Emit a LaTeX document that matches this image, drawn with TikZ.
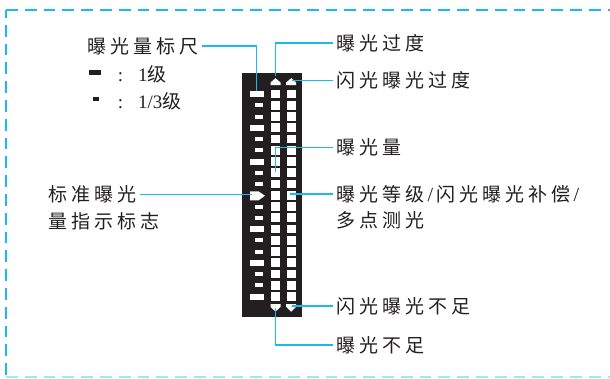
\documentclass[tikz,border=0pt]{standalone}
\usepackage{fontspec}
\setmainfont{Liberation Serif}
\newfontfamily\cjk[LetterSpace=21]{Noto Sans CJK SC}
\definecolor{cy}{RGB}{30,185,235}
\definecolor{pk}{RGB}{35,31,32}
\newcommand{\lsl}{{\rmfamily\fontsize{20}{22}\selectfont\,/\,}}
\begin{document}
\begin{tikzpicture}[x=1pt,y=-1pt,
  lab/.style={font=\cjk\fontsize{19}{22}\selectfont, inner sep=3pt, text=pk},
  latn/.style={font=\fontsize{19}{22}\selectfont, inner sep=3pt, text=pk},
  lead/.style={draw=cy, line width=1.7pt},
  border/.style={draw=cy, line width=2pt, dash pattern=on 11.8pt off 7pt}]
\useasboundingbox (0,0) rectangle (610,378);
% dashed frame
\draw[border] (6,10) -- (620,10);
\draw[border, dash phase=4pt] (6,10) -- (6,377);
\draw[border, draw=cy!40, line width=1.5pt] (6,377) -- (620,377);
% black panel
\fill[pk] (242,73) rectangle (302,317);
% scale marks
\foreach \i in {0,3,6,12,15,18}
  \fill[white] (250,{94+11.25*\i-3}) rectangle (263.5,{94+11.25*\i+3});
\foreach \i in {1,2,4,5,7,8,10,11,13,14,16,17}
  \fill[white] (255,{94+11.25*\i-2}) rectangle (262.5,{94+11.25*\i+2});
% standard exposure mark
\fill[white] (250,191.3) -- (258.5,191.3) -- (265,195.8) -- (258.5,200.3) -- (250,200.3) -- cycle;
% squares
\foreach \i in {0,...,18} {
  \fill[white] (271,{94+11.25*\i-4.3}) rectangle (280,{94+11.25*\i+4.3});
  \fill[white] (286.7,{94+11.25*\i-4.3}) rectangle (295.7,{94+11.25*\i+4.3});
}
% top arrows
\fill[white] (270.5,85) -- (270.5,82.5) -- (275.5,78.2) -- (280.5,82.5) -- (280.5,85) -- cycle;
\fill[white] (286.2,85) -- (286.2,82.5) -- (291.2,78.2) -- (296.2,82.5) -- (296.2,85) -- cycle;
% bottom arrows
\fill[white] (270.5,304) -- (280.5,304) -- (280.5,306.8) -- (275.5,311.7) -- (270.5,306.8) -- cycle;
\fill[white] (286.2,304) -- (296.2,304) -- (296.2,306.8) -- (291.2,311.7) -- (286.2,306.8) -- cycle;
% legend
\fill[pk] (89.3,70) rectangle (101,74.5);
\fill[pk] (93.3,97) rectangle (99,101);
\node[latn, anchor=base] (c1) at (120.5,81.5) {:};
\node[latn, anchor=base] (c2) at (120.5,108.3) {:};
\node[latn, anchor=base west] (l1) at (135,81.5) {1{\cjk 级}};
\node[latn, anchor=base west] (l2) at (135,108.3) {1/3{\cjk 级}};
% labels
\node[lab, anchor=east] (sc) at (202,46) {曝光量标尺};
\node[lab, anchor=west] (ov) at (333,43) {曝光过度};
\node[lab, anchor=west] (fov) at (333,80.5) {闪光曝光过度};
\node[lab, anchor=west] (ev) at (333,147.5) {曝光量};
\node[lab, anchor=west] (lvl1) at (333,194.3) {曝光等级\lsl 闪光曝光补偿\lsl};
\node[lab, anchor=west] (lvl2) at (333,220.5) {多点测光};
\node[lab, anchor=west] (fun) at (333,306.3) {闪光曝光不足};
\node[lab, anchor=west] (un) at (333,345) {曝光不足};
\node[lab, anchor=west] (std1) at (45,194.5) {标准曝光};
\node[lab, anchor=west] (std2) at (45,221.5) {量指示标志};
% targets
\coordinate (scT) at (256.5,91);
\coordinate (ovT) at (275.5,76);
\coordinate (fovT) at (291.5,80.5);
\coordinate (evT) at (275.5,172);
\coordinate (lvlT) at (290,194.3);
\coordinate (funT) at (291.5,306.3);
\coordinate (unT) at (275.5,308);
\coordinate (stdT) at (251.5,194.5);
% leaders
\draw[lead] (sc.east) -| (scT);
\draw[lead] (ov.west) -| (ovT);
\draw[lead] (fov.west) -- (fovT);
\draw[lead] (ev.west) -| (evT);
\draw[lead] (lvl1.west) -- (lvlT);
\draw[lead] (fun.west) -- (funT);
\draw[lead] (un.west) -| (unT);
\draw[lead] ([xshift=1pt]std1.east) -- (stdT);
\end{tikzpicture}
\end{document}
